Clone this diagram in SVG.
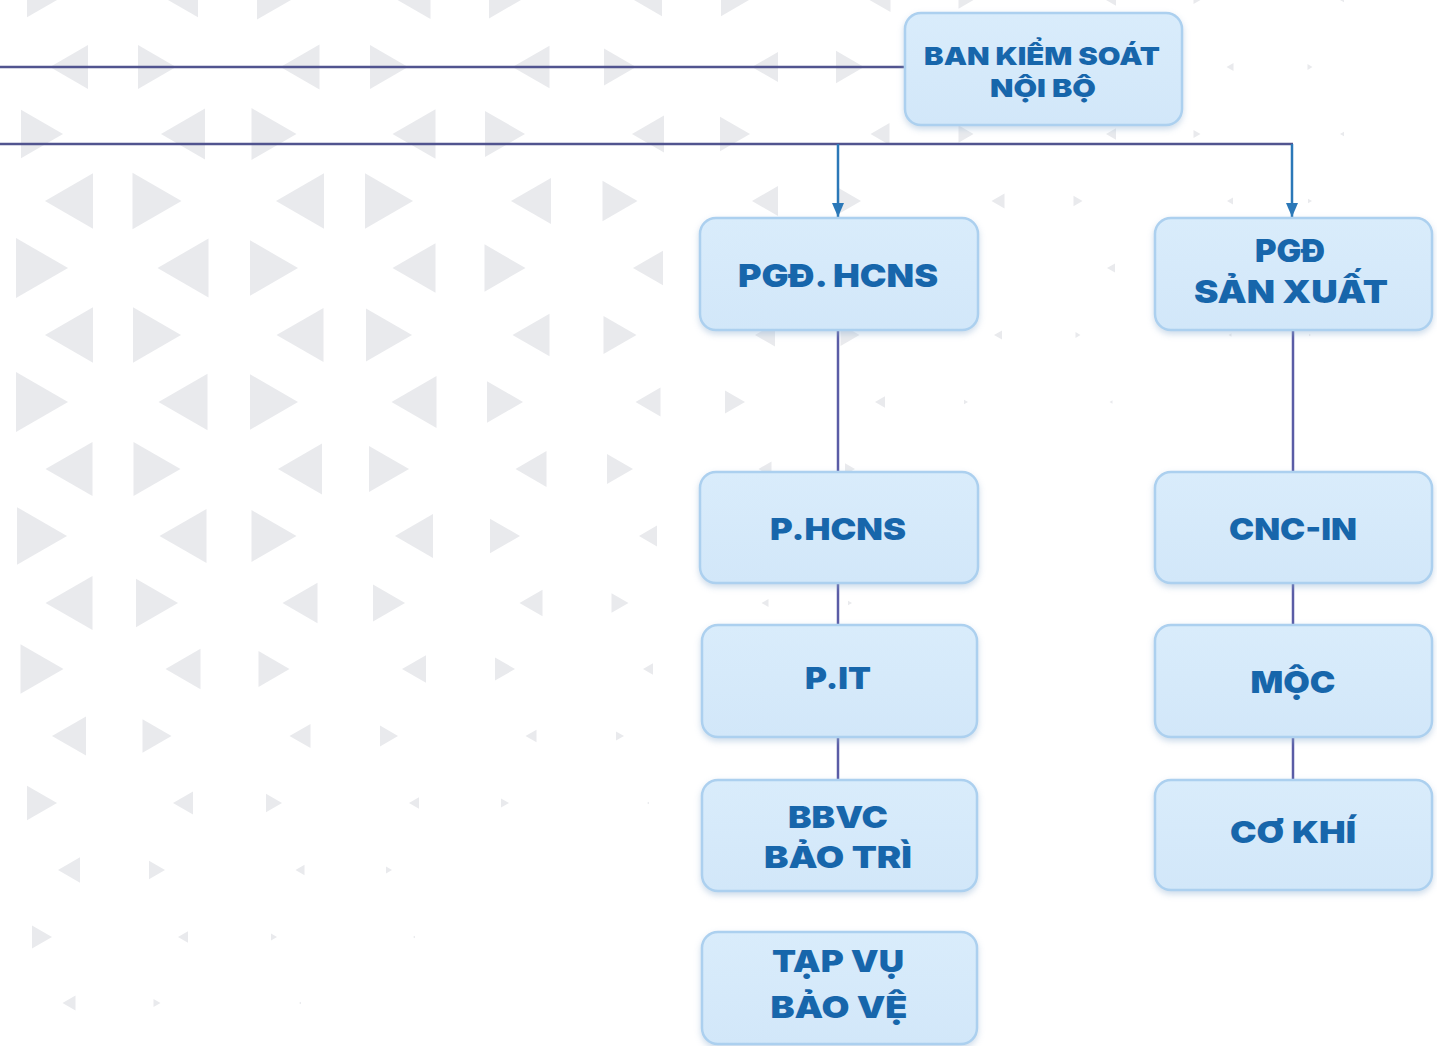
<svg xmlns="http://www.w3.org/2000/svg" width="1437" height="1046" viewBox="0 0 1437 1046">
<style>
.bg{fill:#e9eaed}
.box{fill:url(#bx);stroke:#acd0ef;stroke-width:2.5;filter:url(#sh)}
.t{font-family:Inter,"Open Sans","Noto Sans",sans-serif;font-weight:900;fill:#1766ab;text-anchor:middle}
.h{stroke:#51548f;stroke-width:2.5;fill:none}
.a{stroke:#2b78b8;stroke-width:2.5;fill:none;marker-end:url(#ar)}
.v{stroke:#5a5ca6;stroke-width:2.5;fill:none}
</style>
<defs>
<linearGradient id="bx" x1="0" y1="0" x2="0" y2="1">
<stop offset="0" stop-color="#d9ecfb"/>
<stop offset="1" stop-color="#d2e7f9"/>
</linearGradient>
<filter id="sh" x="-10%" y="-15%" width="120%" height="135%">
<feDropShadow dx="0" dy="3" stdDeviation="3" flood-color="#8fb0d0" flood-opacity="0.45"/>
</filter>
<marker id="ar" viewBox="0 0 14 12" refX="14" refY="6" markerWidth="14" markerHeight="12" markerUnits="userSpaceOnUse" orient="auto">
<path d="M0,0 L14,6 L0,12 z" fill="#2b78b8"/>
</marker>
<polygon id="L" points="-0.5,0 0.5,-0.577 0.5,0.577"/>
<polygon id="R" points="0.5,0 -0.5,-0.577 -0.5,0.577"/>
</defs>
<rect width="1437" height="1046" fill="#ffffff"/>
<g id="background" class="bg">
<use href="#R" transform="translate(42 0) scale(30)"/><use href="#L" transform="translate(183 0) scale(30)"/><use href="#R" transform="translate(274 0) scale(34)"/><use href="#L" transform="translate(414 0) scale(33)"/><use href="#R" transform="translate(505 0) scale(32)"/><use href="#L" transform="translate(648 0) scale(28)"/><use href="#R" transform="translate(735 0) scale(28)"/><use href="#L" transform="translate(880 0) scale(21)"/><use href="#R" transform="translate(966 0) scale(15)"/><use href="#L" transform="translate(1111 0) scale(10)"/><use href="#R" transform="translate(1197 0) scale(7)"/><use href="#L" transform="translate(1342 0) scale(4)"/>
<use href="#L" transform="translate(69 67) scale(38)"/><use href="#R" transform="translate(157 67) scale(38)"/><use href="#L" transform="translate(300 67) scale(39)"/><use href="#R" transform="translate(389 67) scale(38)"/><use href="#L" transform="translate(531 67) scale(37)"/><use href="#R" transform="translate(620 67) scale(32)"/><use href="#L" transform="translate(765 67) scale(26)"/><use href="#R" transform="translate(850 67) scale(28)"/><use href="#L" transform="translate(1230 67) scale(7)"/><use href="#R" transform="translate(1310 67) scale(5)"/>
<use href="#R" transform="translate(42 134) scale(42)"/><use href="#L" transform="translate(183 134) scale(44)"/><use href="#R" transform="translate(274 134) scale(45)"/><use href="#L" transform="translate(414 134) scale(43)"/><use href="#R" transform="translate(505 134) scale(40)"/><use href="#L" transform="translate(648 134) scale(32)"/><use href="#R" transform="translate(735 134) scale(30)"/><use href="#L" transform="translate(880 134) scale(19)"/><use href="#R" transform="translate(966 134) scale(15)"/><use href="#L" transform="translate(1111 134) scale(10)"/><use href="#R" transform="translate(1197 134) scale(7)"/><use href="#L" transform="translate(1342 134) scale(4)"/>
<use href="#L" transform="translate(69 201) scale(48)"/><use href="#R" transform="translate(157 201) scale(49)"/><use href="#L" transform="translate(300 201) scale(48)"/><use href="#R" transform="translate(389 201) scale(48)"/><use href="#L" transform="translate(531 201) scale(40)"/><use href="#R" transform="translate(620 201) scale(35)"/><use href="#L" transform="translate(765 201) scale(26)"/><use href="#R" transform="translate(850 201) scale(22)"/><use href="#L" transform="translate(998 201) scale(13)"/><use href="#R" transform="translate(1078 201) scale(9)"/><use href="#L" transform="translate(1230 201) scale(6)"/><use href="#R" transform="translate(1310 201) scale(4)"/>
<use href="#R" transform="translate(42 268) scale(52)"/><use href="#L" transform="translate(183 268) scale(51)"/><use href="#R" transform="translate(274 268) scale(48)"/><use href="#L" transform="translate(414 268) scale(43)"/><use href="#R" transform="translate(505 268) scale(41)"/><use href="#L" transform="translate(648 268) scale(30)"/><use href="#L" transform="translate(1111 268) scale(8)"/>
<use href="#L" transform="translate(69 335) scale(48)"/><use href="#R" transform="translate(157 335) scale(48)"/><use href="#L" transform="translate(300 335) scale(47)"/><use href="#R" transform="translate(389 335) scale(46)"/><use href="#L" transform="translate(531 335) scale(37)"/><use href="#R" transform="translate(620 335) scale(33)"/><use href="#L" transform="translate(765 335) scale(20)"/><use href="#R" transform="translate(850 335) scale(19)"/><use href="#L" transform="translate(998 335) scale(8)"/><use href="#R" transform="translate(1078 335) scale(5)"/><use href="#L" transform="translate(1230 335) scale(3)"/><use href="#R" transform="translate(1310 335) scale(2)"/>
<use href="#R" transform="translate(42 402) scale(52)"/><use href="#L" transform="translate(183 402) scale(49)"/><use href="#R" transform="translate(274 402) scale(48)"/><use href="#L" transform="translate(414 402) scale(45)"/><use href="#R" transform="translate(505 402) scale(36)"/><use href="#L" transform="translate(648 402) scale(25)"/><use href="#R" transform="translate(735 402) scale(20)"/><use href="#L" transform="translate(880 402) scale(10)"/><use href="#R" transform="translate(966 402) scale(4)"/><use href="#L" transform="translate(1111 402) scale(3)"/>
<use href="#L" transform="translate(69 469) scale(47)"/><use href="#R" transform="translate(157 469) scale(47)"/><use href="#L" transform="translate(300 469) scale(44)"/><use href="#R" transform="translate(389 469) scale(40)"/><use href="#L" transform="translate(531 469) scale(31)"/><use href="#R" transform="translate(620 469) scale(26)"/><use href="#L" transform="translate(765 469) scale(13)"/><use href="#R" transform="translate(850 469) scale(10)"/>
<use href="#R" transform="translate(42 536) scale(50)"/><use href="#L" transform="translate(183 536) scale(47)"/><use href="#R" transform="translate(274 536) scale(45)"/><use href="#L" transform="translate(414 536) scale(38)"/><use href="#R" transform="translate(505 536) scale(30)"/><use href="#L" transform="translate(648 536) scale(18)"/>
<use href="#L" transform="translate(69 603) scale(47)"/><use href="#R" transform="translate(157 603) scale(42)"/><use href="#L" transform="translate(300 603) scale(35)"/><use href="#R" transform="translate(389 603) scale(32)"/><use href="#L" transform="translate(531 603) scale(23)"/><use href="#R" transform="translate(620 603) scale(17)"/><use href="#L" transform="translate(765 603) scale(7)"/><use href="#R" transform="translate(850 603) scale(4)"/>
<use href="#R" transform="translate(42 669) scale(43)"/><use href="#L" transform="translate(183 669) scale(35)"/><use href="#R" transform="translate(274 669) scale(31)"/><use href="#L" transform="translate(414 669) scale(24)"/><use href="#R" transform="translate(505 669) scale(20)"/><use href="#L" transform="translate(648 669) scale(10)"/>
<use href="#L" transform="translate(69 736) scale(34)"/><use href="#R" transform="translate(157 736) scale(29)"/><use href="#L" transform="translate(300 736) scale(21)"/><use href="#R" transform="translate(389 736) scale(18)"/><use href="#L" transform="translate(531 736) scale(11)"/><use href="#R" transform="translate(620 736) scale(8)"/>
<use href="#R" transform="translate(42 803) scale(30)"/><use href="#L" transform="translate(183 803) scale(20)"/><use href="#R" transform="translate(274 803) scale(16)"/><use href="#L" transform="translate(414 803) scale(10)"/><use href="#R" transform="translate(505 803) scale(8)"/><use href="#L" transform="translate(648 803) scale(2)"/>
<use href="#L" transform="translate(69 870) scale(22)"/><use href="#R" transform="translate(157 870) scale(16)"/><use href="#L" transform="translate(300 870) scale(9)"/><use href="#R" transform="translate(389 870) scale(6)"/>
<use href="#R" transform="translate(42 937) scale(20)"/><use href="#L" transform="translate(183 937) scale(10)"/><use href="#R" transform="translate(274 937) scale(6)"/><use href="#L" transform="translate(414 937) scale(2)"/>
<use href="#L" transform="translate(69 1003) scale(13)"/><use href="#R" transform="translate(157 1003) scale(7)"/><use href="#L" transform="translate(300 1003) scale(2)"/>
</g>
<g id="connectors">
<path class="h" d="M0 67 H905"/>
<path class="h" d="M0 144 H1293"/>
<path class="a" d="M838 144 V217"/>
<path class="a" d="M1292 144 V217"/>
<path class="v" d="M838 330 V472"/>
<path class="v" d="M838 583 V625"/>
<path class="v" d="M838 737 V780"/>
<path class="v" d="M1293 330 V472"/>
<path class="v" d="M1293 583 V625"/>
<path class="v" d="M1293 737 V780"/>
</g>
<g id="ban-kiem-soat">
<rect class="box" x="905" y="13" width="277" height="112" rx="16"/>
<text class="t" x="1042" y="65" font-size="25" textLength="236" lengthAdjust="spacingAndGlyphs">BAN KIỂM SOÁT</text>
<text class="t" x="1043" y="97" font-size="25" textLength="106" lengthAdjust="spacingAndGlyphs">NỘI BỘ</text>
</g>
<g id="pgd-hcns">
<rect class="box" x="700" y="218" width="278" height="112" rx="16"/>
<text class="t" x="838" y="287" font-size="32" textLength="200" lengthAdjust="spacingAndGlyphs">PGĐ. HCNS</text>
</g>
<g id="pgd-san-xuat">
<rect class="box" x="1155" y="218" width="277" height="112" rx="16"/>
<text class="t" x="1290" y="262" font-size="31" textLength="70" lengthAdjust="spacingAndGlyphs">PGĐ</text>
<text class="t" x="1291" y="303" font-size="31" textLength="194" lengthAdjust="spacingAndGlyphs">SẢN XUẤT</text>
</g>
<g id="p-hcns">
<rect class="box" x="700" y="472" width="278" height="111" rx="16"/>
<text class="t" x="838" y="540" font-size="30" textLength="136" lengthAdjust="spacingAndGlyphs">P.HCNS</text>
</g>
<g id="p-it">
<rect class="box" x="702" y="625" width="275" height="112" rx="16"/>
<text class="t" x="838" y="689" font-size="30" textLength="66" lengthAdjust="spacingAndGlyphs">P.IT</text>
</g>
<g id="bbvc-bao-tri">
<rect class="box" x="702" y="780" width="275" height="111" rx="16"/>
<text class="t" x="838" y="828" font-size="30" textLength="100" lengthAdjust="spacingAndGlyphs">BBVC</text>
<text class="t" x="838" y="868" font-size="30" textLength="148" lengthAdjust="spacingAndGlyphs">BẢO TRÌ</text>
</g>
<g id="tap-vu-bao-ve">
<rect class="box" x="702" y="932" width="275" height="112" rx="16"/>
<text class="t" x="838" y="972" font-size="30" textLength="132" lengthAdjust="spacingAndGlyphs">TẠP VỤ</text>
<text class="t" x="839" y="1018" font-size="30" textLength="137" lengthAdjust="spacingAndGlyphs">BẢO VỆ</text>
</g>
<g id="cnc-in">
<rect class="box" x="1155" y="472" width="277" height="111" rx="16"/>
<text class="t" x="1293" y="540" font-size="30" textLength="128" lengthAdjust="spacingAndGlyphs">CNC-IN</text>
</g>
<g id="moc">
<rect class="box" x="1155" y="625" width="277" height="112" rx="16"/>
<text class="t" x="1293" y="693" font-size="30" textLength="85" lengthAdjust="spacingAndGlyphs">MỘC</text>
</g>
<g id="co-khi">
<rect class="box" x="1155" y="780" width="277" height="110" rx="16"/>
<text class="t" x="1293" y="843" font-size="30" textLength="126" lengthAdjust="spacingAndGlyphs">CƠ KHÍ</text>
</g>
</svg>
